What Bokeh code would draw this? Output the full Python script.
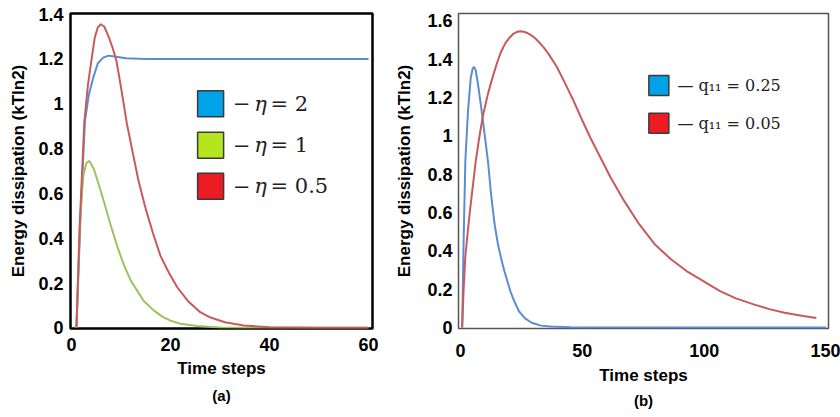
from bokeh.plotting import figure
from bokeh.layouts import row
from bokeh.models import FixedTicker, Range1d, Label, Title
from bokeh.embed import file_html
from bokeh.resources import INLINE

# ---------------- Panel (a) data ----------------
a_t_eta2 = [1, 1.8, 2.7, 3.5, 4.4, 5.3, 6.4, 7.5, 9, 11, 15, 60]
a_e_eta2 = [0, 0.48, 0.92, 1.04, 1.117, 1.18, 1.206, 1.215, 1.21, 1.203, 1.2, 1.2]

a_t_eta1 = [1, 1.7, 2.4, 3.0, 3.6, 4.5, 5.5, 6.5, 7.9, 9.3, 10.6, 12, 13.3, 14.6, 16.6,
            18.5, 20, 22, 25.4, 30, 35, 60]
a_e_eta1 = [0, 0.477, 0.68, 0.735, 0.745, 0.71, 0.64, 0.567, 0.46, 0.36, 0.28, 0.21, 0.165,
            0.12, 0.078, 0.048, 0.032, 0.018, 0.008, 0.002, 0, 0]

a_t_eta05 = [1, 1.7, 2.6, 3.3, 4.0, 4.7, 5.3, 5.9, 6.6, 7.5, 8.3, 9.1, 10.1, 11.2, 12.3, 13.5,
             15.0, 16.5, 18, 19.7, 21.4, 23.5, 26, 28.1, 31, 34.8, 40, 50, 60]
a_e_eta05 = [0, 0.48, 0.92, 1.08, 1.19, 1.295, 1.34, 1.355, 1.345, 1.30, 1.25, 1.19, 1.06, 0.91,
             0.79, 0.66, 0.53, 0.42, 0.32, 0.245, 0.18, 0.12, 0.07, 0.046, 0.025, 0.01, 0.003, 0, 0]

a_x_ticks = [0, 20, 40, 60]
a_y_ticks = [0, 0.2, 0.4, 0.6, 0.8, 1, 1.2, 1.4]
a_y_labels = ["0", "0.2", "0.4", "0.6", "0.8", "1", "1.2", "1.4"]
a_legend_values = ["= 2", "= 1", "= 0.5"]

# ---------------- Panel (b) data ----------------
b_t_q025 = [0.7, 1.3, 2.0, 3.1, 4.2, 5.0, 5.6, 6.3, 7.3, 8.7, 10.0, 11.3, 12.6, 14, 15.3, 16.7,
            18, 19.3, 20.6, 22, 24, 26.5, 29.2, 33, 37, 45, 150]
b_e_q025 = [0, 0.45, 0.866, 1.13, 1.3, 1.35, 1.36, 1.34, 1.26, 1.13, 1.0, 0.866, 0.69, 0.54,
            0.44, 0.36, 0.295, 0.24, 0.185, 0.14, 0.085, 0.048, 0.025, 0.01, 0.005, 0.001, 0]

b_t_q005 = [0.7, 1.3, 2, 3, 4, 5, 6.3, 7.7, 9.3, 11.3, 13.3, 15, 16.7, 18.5, 20, 21.5, 23, 24.5,
            26, 27.5, 29.3, 31, 32.5, 34.2, 36, 39.5, 42.7, 46.5, 50, 53.3, 56.7, 61.5, 66.7, 73,
            80, 86.5, 93.3, 100, 106.5, 113, 120, 126.7, 133, 140, 146]
b_e_q005 = [0, 0.2, 0.37, 0.5, 0.62, 0.73, 0.87, 0.99, 1.11, 1.22, 1.31, 1.38, 1.44, 1.485, 1.51,
            1.53, 1.541, 1.545, 1.543, 1.536, 1.523, 1.505, 1.485, 1.46, 1.43, 1.36, 1.28, 1.18,
            1.08, 0.99, 0.905, 0.785, 0.67, 0.545, 0.43, 0.355, 0.29, 0.24, 0.19, 0.152, 0.122,
            0.096, 0.077, 0.062, 0.05]

b_x_ticks = [0, 50, 100, 150]
b_y_ticks = [0, 0.2, 0.4, 0.6, 0.8, 1, 1.2, 1.4, 1.6]
b_y_labels = ["0", "0.2", "0.4", "0.6", "0.8", "1", "1.2", "1.4", "1.6"]
b_legend_labels = ["\u2014  q\u2081\u2081 = 0.25", "\u2014  q\u2081\u2081 = 0.05"]

# ---------------- styles ----------------
LINE_BLUE = "#5a8dd3"
LINE_GREEN = "#9dc35f"
LINE_RED = "#c85a5c"
SW_BLUE = "#00a2e8"
SW_GREEN = "#b5e61d"
SW_RED = "#ed1c24"
SANS = "Liberation Sans"
SERIF = "DejaVu Serif"


def style_axes(p, xticks, yticks, ylabels, xstand, ystand, xlab_stand, ylab_stand):
    p.xaxis.ticker = FixedTicker(ticks=xticks)
    p.yaxis.ticker = FixedTicker(ticks=yticks)
    p.yaxis.major_label_overrides = {t: l for t, l in zip(yticks, ylabels)}
    for ax in (p.xaxis[0], p.yaxis[0]):
        ax.axis_line_color = None
        ax.major_tick_line_color = None
        ax.minor_tick_line_color = None
        ax.major_tick_out = 0
        ax.major_tick_in = 0
        ax.major_label_text_font = SANS
        ax.major_label_text_font_style = "bold"
        ax.major_label_text_font_size = "18px"
        ax.major_label_text_color = "black"
        ax.axis_label_text_font = SANS
        ax.axis_label_text_font_style = "bold"
        ax.axis_label_text_font_size = "17px"
        ax.axis_label_text_color = "black"
    p.xaxis.major_label_standoff = xstand
    p.yaxis.major_label_standoff = ystand
    p.xaxis.axis_label_standoff = xlab_stand
    p.yaxis.axis_label_standoff = ylab_stand
    p.xgrid.visible = False
    p.ygrid.visible = False


# ---------------- Figure (a) ----------------
pa = figure(width=392, height=412, output_backend="svg", toolbar_location=None,
            x_range=Range1d(-0.2, 60.8), y_range=Range1d(-0.003, 1.403),
            min_border_left=70, min_border_right=20, min_border_top=13, min_border_bottom=84,
            x_axis_label="Time steps", y_axis_label="Energy dissipation (kTln2)")
pa.outline_line_color = "black"
pa.outline_line_width = 2.5
pa.background_fill_color = "white"
pa.border_fill_color = "white"
style_axes(pa, a_x_ticks, a_y_ticks, a_y_labels, 9, 7, 5, 7)

pa.line(a_t_eta2, a_e_eta2, line_color=LINE_BLUE, line_width=2)
pa.line(a_t_eta1, a_e_eta1, line_color=LINE_GREEN, line_width=2)
pa.line(a_t_eta05, a_e_eta05, line_color=LINE_RED, line_width=2)

# legend (a): swatches + labels
a_sw_x = 28.1
a_sw_y = [1.0, 0.815, 0.632]
pa.rect(x=[a_sw_x] * 3, y=a_sw_y, width=26, height=26, width_units="screen",
        height_units="screen", fill_color=[SW_BLUE, SW_GREEN, SW_RED],
        line_color="#3a3a3a", line_width=1.5)
for val, yy in zip(a_legend_values, a_sw_y):
    pa.add_layout(Label(x=32.6, y=yy, text="\u2212", text_font=SERIF, text_font_size="21px",
                        text_baseline="middle", text_color="#222222"))
    pa.add_layout(Label(x=36.9, y=yy, text="\u03b7", text_font=SERIF, text_font_size="21px",
                        text_font_style="italic", text_baseline="middle", text_color="#222222"))
    pa.add_layout(Label(x=40.2, y=yy, text=val, text_font=SERIF, text_font_size="21px",
                        text_baseline="middle", text_color="#222222"))

pa.add_layout(Title(text="(a)", align="center", text_font=SANS, text_font_style="bold",
                    text_font_size="15px", text_color="black", standoff=9), "below")

# ---------------- Figure (b) ----------------
pb = figure(width=448, height=412, output_backend="svg", toolbar_location=None,
            x_range=Range1d(-0.8, 151), y_range=Range1d(-0.005, 1.638),
            min_border_left=63, min_border_right=12, min_border_top=5, min_border_bottom=76,
            x_axis_label="Time steps", y_axis_label="Energy dissipation (kTln2)")
pb.outline_line_color = "#555555"
pb.outline_line_width = 1.5
pb.background_fill_color = "white"
pb.border_fill_color = "white"
style_axes(pb, b_x_ticks, b_y_ticks, b_y_labels, 15, 6, 6, 10)

pb.line(b_t_q025, b_e_q025, line_color=LINE_BLUE, line_width=2)
pb.line(b_t_q005, b_e_q005, line_color=LINE_RED, line_width=2)

b_sw_x = 81.4
b_sw_y = [1.262, 1.065]
pb.rect(x=[b_sw_x] * 2, y=b_sw_y, width=20, height=20, width_units="screen",
        height_units="screen", fill_color=[SW_BLUE, SW_RED],
        line_color="#3a3a3a", line_width=1.5)
for lab, yy in zip(b_legend_labels, b_sw_y):
    pb.add_layout(Label(x=89.0, y=yy, text=lab, text_font=SERIF, text_font_size="16px",
                        text_baseline="middle", text_color="#222222"))

pb.add_layout(Title(text="(b)", align="center", text_font=SANS, text_font_style="bold",
                    text_font_size="15px", text_color="black", standoff=5), "below")

layout = row(pa, pb)
open("out.html", "w").write(file_html(layout, INLINE))
